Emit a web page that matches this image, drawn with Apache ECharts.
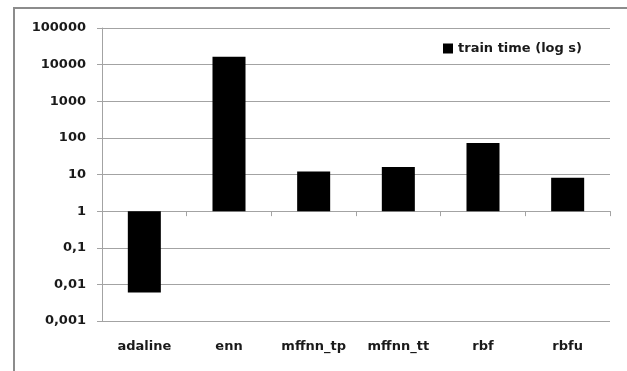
<!DOCTYPE html>
<html>
<head>
<meta charset="utf-8">
<script src="https://cdn.jsdelivr.net/npm/echarts@6/dist/echarts.min.js"></script>
<style>
  html, body { margin: 0; padding: 0; background: #fff; overflow: hidden; }
  #chart { position: absolute; left: 0; top: 0; width: 627px; height: 371px; }
</style>
</head>
<body>
<div id="chart"></div>
<script>
// Training time per network type, in seconds (log scale)
const categories = ['adaline', 'enn', 'mffnn_tp', 'mffnn_tt', 'rbf', 'rbfu'];
const trainTime = [0.006, 16500, 12.1, 15.9, 72, 8.1];
const seriesName = 'train time (log s)';

// Decade tick labels, written with a decimal comma
const tickLabels = ['0,001', '0,01', '0,1', '1', '10', '100', '1000', '10000', '100000'];
const yMin = 0.001;
const yMax = 100000;

const grid = { left: 102, right: 17, top: 28, bottom: 50 };
const chartWidth = 627;
const chartHeight = 371;
const gridHeight = chartHeight - grid.top - grid.bottom;
// The category axis line sits at y = 1, where the bars start
const baseShift = gridHeight * (Math.log10(1) - Math.log10(yMin)) /
                  (Math.log10(yMax) - Math.log10(yMin));

const font = 'DejaVu Sans';
const gridGray = '#a3a3a3';

const chart = echarts.init(document.getElementById('chart'), null, { renderer: 'canvas' });
chart.setOption({
  animation: false,
  backgroundColor: '#ffffff',
  grid: grid,
  graphic: [{
    // chart-area frame: left and top edges
    type: 'polyline',
    silent: true,
    shape: { points: [[14, chartHeight], [14, 8], [chartWidth, 8]] },
    style: { stroke: '#8c8c8c', lineWidth: 2, fill: null }
  }],
  legend: {
    data: [seriesName],
    left: 438,
    top: 37,
    icon: 'rect',
    itemWidth: 10,
    itemHeight: 10,
    itemGap: 4,
    textStyle: { fontFamily: font, fontSize: 13, fontWeight: 'bold', color: '#1a1a1a' }
  },
  xAxis: [
    {
      type: 'category',
      data: categories,
      position: 'bottom',
      axisLine: { show: false, onZero: false },
      axisTick: { show: false },
      axisLabel: { margin: 19, fontFamily: font, fontSize: 13, fontWeight: 'bold', color: '#1a1a1a' }
    },
    {
      type: 'category',
      data: categories,
      position: 'bottom',
      offset: -baseShift,
      axisLine: { show: true, onZero: false, lineStyle: { color: gridGray, width: 1 } },
      axisTick: { show: true, length: 5, lineStyle: { color: gridGray } },
      axisLabel: { show: false }
    }
  ],
  yAxis: {
    type: 'log',
    logBase: 10,
    min: yMin,
    max: yMax,
    interval: 1,
    axisLine: { show: true, lineStyle: { color: gridGray, width: 1 } },
    axisTick: { show: true, length: 5, lineStyle: { color: gridGray } },
    splitLine: { show: true, lineStyle: { color: gridGray, width: 1 } },
    axisLabel: {
      margin: 16,
      fontFamily: font, fontSize: 13, fontWeight: 'bold', color: '#1a1a1a',
      formatter: function (v) {
        const i = Math.round(Math.log10(v) - Math.log10(yMin));
        return tickLabels[i] !== undefined ? tickLabels[i] : '';
      }
    }
  },
  series: [{
    name: seriesName,
    type: 'bar',
    xAxisIndex: 0,
    data: trainTime,
    barWidth: '39%',
    itemStyle: { color: '#000000' }
  }]
});
</script>
</body>
</html>
